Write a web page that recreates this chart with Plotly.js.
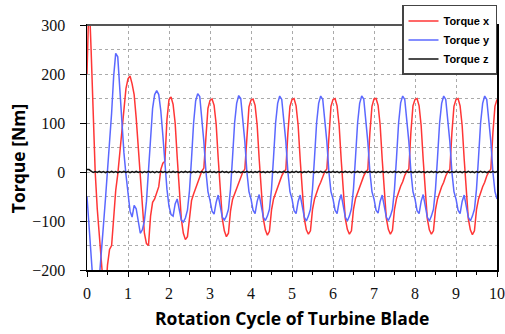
<!DOCTYPE html>
<html>
<head>
<meta charset="utf-8">
<script src="https://cdn.plot.ly/plotly-3.0.1.min.js"></script>
<style>
html,body{margin:0;padding:0;background:#fff;}
#chart{width:505px;height:334px;}
</style>
</head>
<body>
<div id="chart"></div>
<script>
// Sampling of the series along the rotation-cycle axis
const tStart = 0;
const tStep = 0.05;

// Torque x [Nm], one value every 0.05 cycle, t = 0 ... 10
const torqueX = [
  200, 360, 250, 110, 0, -75, -140, -190, -235, -250, -190, -158, -150, -95, -38, -5, 40, 85, 130, 170,
  190, 196, 180, 158, 110, 50, -20, -85, -125, -146, -150, -90, -62, -55, -42, -30, 5, 18, 22, 107,
  148, 153, 138, 100, 30, -40, -95, -125, -138, -132, -88, -58, -45, -32, -22, -10, 2, 8, 70, 130,
  146, 149, 136, 98, 28, -42, -95, -120, -132, -125, -80, -56, -44, -32, -22, -10, 0, 6, 78, 133,
  147, 149, 136, 96, 26, -44, -95, -118, -129, -121, -78, -55, -43, -30, -22, -8, 0, 5, 80, 134,
  148, 150, 135, 95, 25, -45, -95, -118, -127, -120, -77, -55, -42, -30, -21, -8, 1, 6, 80, 134,
  148, 150, 135, 95, 25, -45, -95, -117, -127, -120, -76, -54, -42, -30, -21, -8, 0, 5, 80, 134,
  149, 150, 136, 96, 26, -44, -94, -117, -127, -119, -76, -54, -41, -29, -20, -7, 1, 6, 81, 135,
  148, 150, 135, 95, 25, -45, -95, -118, -127, -120, -77, -55, -42, -30, -21, -8, 0, 5, 80, 134,
  148, 150, 135, 95, 26, -44, -95, -118, -128, -120, -77, -55, -42, -30, -21, -8, 0, 6, 80, 134,
  148
];

// Torque y [Nm]
const torqueY = [
  -50, -130, -200, -260, -290, -270, -210, -165, -110, -55, 0, 60, 120, 195, 242, 235, 170, 100, 40, -5,
  -45, -80, -92, -68, -75, -105, -125, -118, -100, -60, 10, 80, 130, 158, 166, 158, 125, 75, 15, -35,
  -70, -87, -90, -65, -55, -78, -98, -102, -94, -78, -38, 28, 100, 145, 160, 154, 115, 62, 2, -40,
  -58, -80, -86, -62, -47, -70, -92, -98, -90, -76, -35, 30, 100, 140, 156, 150, 112, 62, 0, -40,
  -55, -78, -85, -60, -46, -70, -92, -99, -90, -76, -35, 30, 100, 140, 155, 148, 110, 62, 0, -40,
  -55, -79, -85, -60, -47, -71, -92, -100, -90, -76, -35, 30, 100, 140, 155, 148, 110, 62, 0, -40,
  -55, -78, -85, -60, -46, -70, -92, -100, -90, -75, -34, 31, 100, 140, 155, 149, 110, 61, 0, -40,
  -55, -78, -84, -60, -47, -71, -92, -99, -90, -76, -35, 30, 100, 141, 155, 148, 110, 62, 1, -40,
  -55, -79, -85, -60, -46, -70, -92, -100, -90, -76, -35, 30, 100, 140, 155, 148, 110, 62, 0, -40,
  -55, -78, -85, -60, -47, -70, -92, -100, -90, -76, -35, 30, 100, 140, 155, 148, 110, 62, 0, -40,
  -55
];

// Torque z [Nm]
const torqueZ = [
  5, 5, 2, -1, 1, -1, 1.5, -1, 1, -1.5, 1, -1, 1.5, -1, 1, -1.5, 1, -1, 1.5, -1,
  1, -1.5, 1, -1, 1.5, -1, 1, -1.5, 1, -1, 1.5, -1, 1, -1.5, 1, -1, 1.5, -1, 1, -1.5,
  1, -1, 1.5, -1, 1, -1.5, 1, -1, 1.5, -1, 1, -1.5, 1, -1, 1.5, -1, 1, -1.5, 1, -1,
  1.5, -1, 1, -1.5, 1, -1, 1.5, -1, 1, -1.5, 1, -1, 1.5, -1, 1, -1.5, 1, -1, 1.5, -1,
  1, -1.5, 1, -1, 1.5, -1, 1, -1.5, 1, -1, 1.5, -1, 1, -1.5, 1, -1, 1.5, -1, 1, -1.5,
  1, -1, 1.5, -1, 1, -1.5, 1, -1, 1.5, -1, 1, -1.5, 1, -1, 1.5, -1, 1, -1.5, 1, -1,
  1.5, -1, 1, -1.5, 1, -1, 1.5, -1, 1, -1.5, 1, -1, 1.5, -1, 1, -1.5, 1, -1, 1.5, -1,
  1, -1.5, 1, -1, 1.5, -1, 1, -1.5, 1, -1, 1.5, -1, 1, -1.5, 1, -1, 1.5, -1, 1, -1.5,
  1, -1, 1.5, -1, 1, -1.5, 1, -1, 1.5, -1, 1, -1.5, 1, -1, 1.5, -1, 1, -1.5, 1, -1,
  1.5, -1, 1, -1.5, 1, -1, 1.5, -1, 1, -1.5, 1, -1, 1.5, -1, 1, -1.5, 1, -1, 1.5, -1,
  1
];

const seriesNames = ['Torque x', 'Torque y', 'Torque z'];
const xTitle = 'Rotation Cycle of Turbine Blade';
const yTitle = 'Torque [Nm]';
const xRange = [0, 10];
const yRange = [-200, 300];

const traces = [
  {y: torqueX, name: '<b>' + seriesNames[0] + '</b>', color: '#ff3636'},
  {y: torqueY, name: '<b>' + seriesNames[1] + '</b>', color: '#5b68ff'},
  {y: torqueZ, name: '<b>' + seriesNames[2] + '</b>', color: '#111111'}
].map(s => ({
  type: 'scatter', mode: 'lines', x0: tStart, dx: tStep, y: s.y, name: s.name,
  line: {color: s.color, width: 1.5}
}));

const serif = 'Liberation Serif';
const sans = 'Open Sans';

const layout = {
  width: 505, height: 334,
  margin: {l: 87, r: 8, t: 25, b: 64, autoexpand: false},
  paper_bgcolor: '#fff', plot_bgcolor: '#fff',
  showlegend: true,
  legend: {
    x: 1, xanchor: 'right', y: 1.082, yanchor: 'top',
    bgcolor: '#fff', bordercolor: '#444', borderwidth: 1.5,
    font: {family: 'Liberation Sans', size: 11, color: '#000', weight: 'bold'},
    tracegroupgap: 0, itemwidth: 30
  },
  xaxis: {
    range: xRange, tick0: 0, dtick: 1, ticks: 'outside', ticklen: 5, tickwidth: 1, tickcolor: '#000',
    showline: true, linecolor: '#000', linewidth: 1.5, mirror: true,
    showgrid: true, gridcolor: '#aaa', griddash: 'dot', gridwidth: 1, zeroline: false,
    tickfont: {family: serif, size: 16, color: '#111'}, ticklabelstandoff: 3,
    minor: {dtick: 0.5, ticks: 'outside', ticklen: 3, tickcolor: '#000', showgrid: false}
  },
  yaxis: {
    range: yRange, tick0: 0, dtick: 100, ticks: 'outside', ticklen: 6, tickwidth: 1, tickcolor: '#000',
    showline: true, linecolor: '#000', linewidth: 1.5, mirror: true,
    showgrid: true, gridcolor: '#aaa', griddash: 'dot', gridwidth: 1, zeroline: false,
    tickfont: {family: serif, size: 16, color: '#111'}, ticklabelstandoff: 11,
    minor: {dtick: 50, showgrid: true, gridcolor: '#aaa', griddash: 'dot', gridwidth: 1}
  },
  shapes: [
    {type: 'line', xref: 'paper', yref: 'paper', x0: 0, x1: 1, y0: 1, y1: 1, line: {color: '#555', width: 2}}
  ],
  annotations: [
    {text: '<b>' + xTitle + '</b>', xref: 'paper', yref: 'paper', x: 0.5, y: -0.196, xanchor: 'center', yanchor: 'middle',
     showarrow: false, font: {family: sans, size: 17.5, color: '#000'}},
    {text: '<b>' + yTitle + '</b>', xref: 'paper', yref: 'paper', x: -0.168, y: 0.453, xanchor: 'center', yanchor: 'middle',
     textangle: -90, showarrow: false, font: {family: sans, size: 17.5, color: '#000'}}
  ]
};

Plotly.newPlot('chart', traces, layout, {displayModeBar: false, staticPlot: true});
</script>
</body>
</html>
